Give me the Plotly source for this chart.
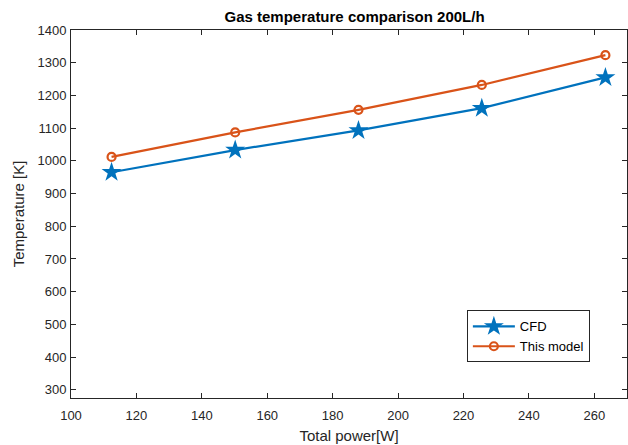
import plotly.graph_objects as go

power = [112.4, 150.2, 187.9, 225.6, 263.4]
cfd = [965, 1033, 1093, 1161, 1255]
model = [1012, 1087, 1156, 1232, 1323]
x_ticks = [100, 120, 140, 160, 180, 200, 220, 240, 260]
y_ticks = [300, 400, 500, 600, 700, 800, 900, 1000, 1100, 1200, 1300, 1400]

fig = go.Figure()
fig.add_trace(go.Scatter(x=power, y=cfd, mode="lines+markers", name="CFD",
                         line=dict(color="#0072BD", width=2.2),
                         marker=dict(symbol="star", size=15, color="#0072BD",
                                     line=dict(width=0))))
fig.add_trace(go.Scatter(x=power, y=model, mode="lines+markers", name="This model",
                         line=dict(color="#D95319", width=2.2),
                         marker=dict(symbol="circle-open", size=8, color="#D95319",
                                     line=dict(width=2.2, color="#D95319"))))

axis_common = dict(showgrid=False, zeroline=False, showline=True, linecolor="#262626",
                   linewidth=1, mirror="ticks", ticks="inside", ticklen=5,
                   tickcolor="#262626", tickfont=dict(size=13, color="#262626"))

fig.update_xaxes(range=[100, 270], tickvals=x_ticks, ticklabelstandoff=5, **axis_common,
                 title=dict(text="Total power[W]", font=dict(size=15, color="#262626"), standoff=8))
fig.update_yaxes(range=[275, 1400], tickvals=y_ticks, ticklabelstandoff=1, **axis_common,
                 title=dict(text="Temperature [K]", font=dict(size=15, color="#262626"), standoff=9))

fig.update_layout(
    width=628, height=445,
    margin=dict(l=71, r=1, t=30, b=47),
    paper_bgcolor="white", plot_bgcolor="white",
    font=dict(family="Liberation Sans, Arial, sans-serif", color="#262626"),
    title=dict(text="<b>Gas temperature comparison 200L/h</b>", xref="paper", x=0.51,
               xanchor="center", y=0.962, yanchor="middle",
               font=dict(size=15, color="black")),
    legend=dict(x=0.712, y=0.238, xanchor="left", yanchor="top",
                bordercolor="#262626", borderwidth=1, bgcolor="white",
                font=dict(size=13, color="black"), tracegroupgap=0, itemwidth=42),
    showlegend=True,
)

fig.write_html("out.html")
